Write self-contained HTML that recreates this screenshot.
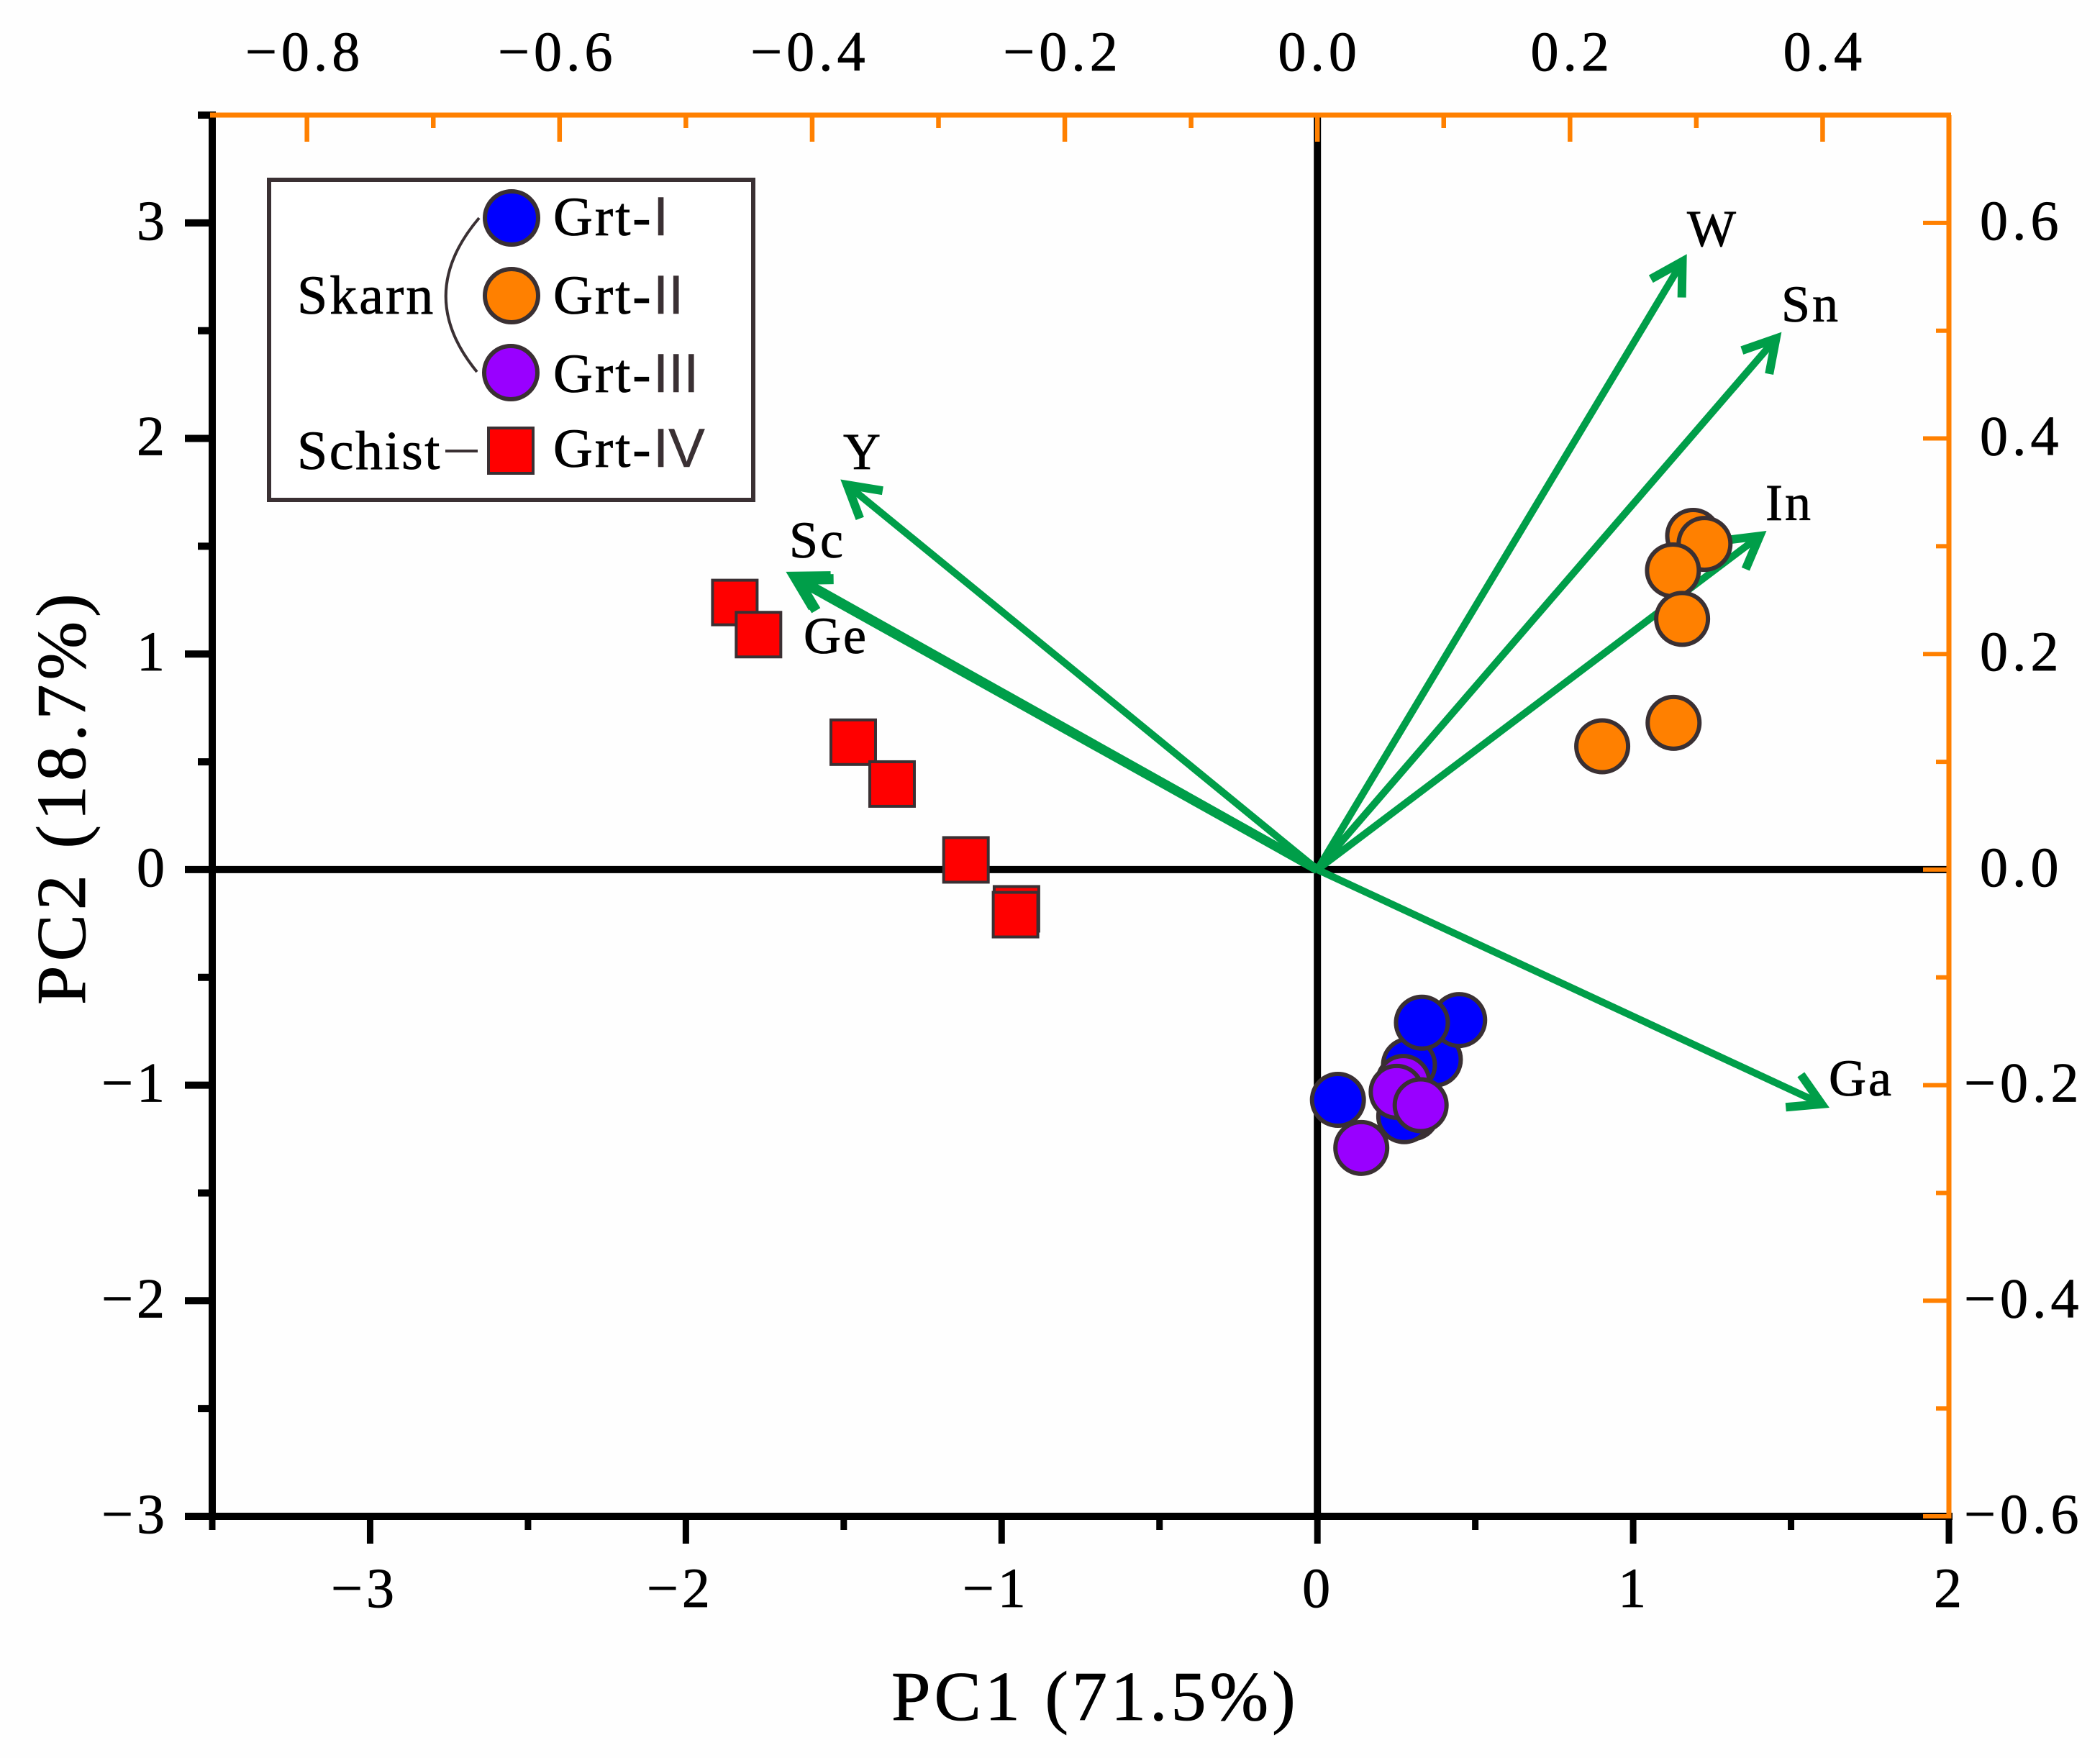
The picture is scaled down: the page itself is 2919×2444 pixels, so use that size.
<!DOCTYPE html>
<html lang="en">
<head>
<meta charset="utf-8">
<title>PCA biplot of garnet trace elements</title>
<style>
html,body{margin:0;padding:0;background:#fff;}
svg{display:block;}
text{font-family:"Liberation Serif",serif;fill:#000;stroke:#000;stroke-width:0.8;}
.roman{font-family:"Liberation Sans",sans-serif;fill:#3a3033;stroke:#3a3033;stroke-width:0.5;letter-spacing:0;}
</style>
</head>
<body>
<svg id="chart" xmlns="http://www.w3.org/2000/svg" width="2919" height="2444" viewBox="0 0 2919 2444">
  <rect x="0" y="0" width="2919" height="2444" fill="#fefefe"/>
  <g id="black-axes"></g>
  <g id="arrows"></g>
  <g id="points"></g>
  <g id="orange-axes"></g>
  <g id="labels"></g>

  <text x="1239" y="2391" font-size="98" letter-spacing="5">PC1 (71.5%)</text>
  <text transform="translate(118,1397) rotate(-90)" font-size="98" letter-spacing="6">PC2 (18.7%)</text>

  <g>
    <rect x="374" y="250" width="673" height="445" fill="#fff" stroke="#3a3033" stroke-width="6"/>
    <path d="M666,303 Q575,410 663,517" fill="none" stroke="#3a3033" stroke-width="4"/>
    <line x1="619" y1="627" x2="664" y2="627" stroke="#3a3033" stroke-width="4"/>
    <text x="413" y="436" font-size="76" letter-spacing="3">Skarn</text>
    <text x="413" y="652" font-size="76" letter-spacing="2.5">Schist</text>
    <circle cx="711" cy="303" r="37" fill="#0000ff" stroke="#3a3033" stroke-width="6"/>
    <circle cx="711" cy="411" r="37" fill="#ff8000" stroke="#3a3033" stroke-width="6"/>
    <circle cx="710" cy="518" r="37" fill="#9900ff" stroke="#3a3033" stroke-width="6"/>
    <rect x="679" y="595" width="62" height="63" fill="#ff0000" stroke="#3a3033" stroke-width="4"/>
    <text x="769" y="327" font-size="76" letter-spacing="3">Grt-<tspan class="roman" x="908">I</tspan></text>
    <text x="769" y="436" font-size="76" letter-spacing="3">Grt-<tspan class="roman" x="908">II</tspan></text>
    <text x="769" y="545" font-size="76" letter-spacing="3">Grt-<tspan class="roman" x="908">III</tspan></text>
    <text x="769" y="649" font-size="76" letter-spacing="3">Grt-<tspan class="roman" x="908">IV</tspan></text>
  </g>
</svg>
<script>
// Bottom and left axes (PC scores)
const pc1Ticks = [-3, -2, -1, 0, 1, 2];
const pc1MinorTicks = [-3.5, -2.5, -1.5, -0.5, 0.5, 1.5];
const pc2Ticks = [-3, -2, -1, 0, 1, 2, 3];
const pc2MinorTicks = [-2.5, -1.5, -0.5, 0.5, 1.5, 2.5, 3.5];

// Top and right axes (loadings)
const loadXTicks = [-0.8, -0.6, -0.4, -0.2, 0, 0.2, 0.4];
const loadXMinorTicks = [-0.7, -0.5, -0.3, -0.1, 0.1, 0.3];
const loadYTicks = [-0.6, -0.4, -0.2, 0, 0.2, 0.4, 0.6];
const loadYMinorTicks = [-0.5, -0.3, -0.1, 0.1, 0.3, 0.5];

// Scores
const grt1X = [0.372, 0.29, 0.30, 0.275, 0.065, 0.449, 0.331];
const grt1Y = [-0.881, -0.906, -1.13, -1.144, -1.068, -0.698, -0.71];
const grt2X = [1.19, 1.226, 1.126, 1.155, 1.128, 0.902];
const grt2Y = [1.548, 1.511, 1.388, 1.163, 0.681, 0.572];
const grt3X = [0.272, 0.251, 0.327, 0.139];
const grt3Y = [-0.985, -1.031, -1.093, -1.291];
const grt4X = [-1.845, -1.77, -1.47, -1.347, -1.113, -0.953, -0.956];
const grt4Y = [1.239, 1.09, 0.591, 0.397, 0.045, -0.182, -0.209];

// Loadings
const elementNames = ['W', 'Sn', 'In', 'Ga', 'Y', 'Sc', 'Ge'];
const loadingX = [0.2925, 0.3675, 0.3556, 0.4054, -0.3776, -0.4208, -0.4185];
const loadingY = [0.571, 0.4987, 0.3143, -0.2209, 0.362, 0.2763, 0.2735];

const SVGNS = 'http://www.w3.org/2000/svg';
const plot = { left: 295, right: 2709, top: 160, bottom: 2108 };
const sx = v => plot.left + (v + 3.5) * (plot.right - plot.left) / 5.5;
const sy = v => plot.top + (3.5 - v) * (plot.bottom - plot.top) / 6.5;
const lx = v => sx(v * 4);
const ly = v => sy(v * 5);

function make(tag, attrs, parent) {
  const el = document.createElementNS(SVGNS, tag);
  for (const k in attrs) el.setAttribute(k, attrs[k]);
  parent.appendChild(el);
  return el;
}
function fmt(v, digits) {
  const s = Math.abs(v).toFixed(digits);
  return (v < 0 ? '\u2212' : '') + s;
}

const blackAxes = document.getElementById('black-axes');
const orangeAxes = document.getElementById('orange-axes');
const arrowLayer = document.getElementById('arrows');
const pointLayer = document.getElementById('points');
const labelLayer = document.getElementById('labels');

function axisLine(parent, x1, y1, x2, y2, color, w, name) {
  const l = make('line', { x1: x1, y1: y1, x2: x2, y2: y2, stroke: color, 'stroke-width': w }, parent);
  
  
  return l;
}
function tickLabel(x, y, str, anchor, size, spacing, name) {
  const t = make('text', { x: x, y: y, 'text-anchor': anchor, 'font-size': size, 'letter-spacing': spacing }, labelLayer);
  t.textContent = str;
  
  
  return t;
}

// centre cross lines and main axes
axisLine(blackAxes, plot.left, sy(0), plot.right, sy(0), '#000', 10, 'zero-line-horizontal');
axisLine(blackAxes, sx(0), plot.top, sx(0), plot.bottom, '#000', 10, 'zero-line-vertical');
axisLine(blackAxes, plot.left, plot.top - 5, plot.left, plot.bottom + 5, '#000', 10, 'left-axis-line');
axisLine(blackAxes, plot.left - 5, plot.bottom, plot.right + 5, plot.bottom, '#000', 10, 'bottom-axis-line');

pc1Ticks.forEach(v => {
  axisLine(blackAxes, sx(v), plot.bottom, sx(v), plot.bottom + 38, '#000', 9, 'x-major-tick');
  tickLabel(sx(v) + (v < 0 ? -8 : 1), 2234, fmt(v, 0), 'middle', 78, 5, 'x-tick-label');
});
pc1MinorTicks.forEach(v => {
  axisLine(blackAxes, sx(v), plot.bottom, sx(v), plot.bottom + 19, '#000', 9, 'x-minor-tick');
});
pc2Ticks.forEach(v => {
  axisLine(blackAxes, plot.left - 38, sy(v), plot.left, sy(v), '#000', 10, 'y-major-tick');
  tickLabel(234, sy(v) + 23, fmt(v, 0), 'end', 78, 5, 'y-tick-label');
});
pc2MinorTicks.forEach(v => {
  axisLine(blackAxes, plot.left - 20, sy(v), plot.left, sy(v), '#000', 10, 'y-minor-tick');
});

// loading vectors
const headLength = 50;
const headAngle = Math.PI / 6;
const labelPosX = [2345, 2476, 2454, 2542, 1172, 1097, 1117];
const labelPosY = [342, 447, 723, 1523, 652, 775, 908];
elementNames.forEach((name, i) => {
  const doubled = name === 'Ge' || name === 'Sc';
  const shaftWidth = doubled ? 13 : 10;
  const barbWidth = doubled ? 14 : 12;
  const miterOffset = barbWidth;
  const ox = lx(0), oy = ly(0);
  const tx = lx(loadingX[i]), ty = ly(loadingY[i]);
  const len = Math.hypot(tx - ox, ty - oy);
  const ux = (tx - ox) / len, uy = (ty - oy) / len;
  const vx = tx - ux * miterOffset, vy = ty - uy * miterOffset;
  const g = make('g', {}, arrowLayer);
  
  
  make('line', { x1: ox, y1: oy, x2: vx, y2: vy, stroke: '#009e49', 'stroke-width': shaftWidth }, g);
  const pts = [1, -1].map(s => {
    const c = Math.cos(s * headAngle), n = Math.sin(s * headAngle);
    const bx = -ux * c + uy * n, by = -ux * n - uy * c;
    return (vx + bx * headLength) + ',' + (vy + by * headLength);
  });
  make('polyline', { points: pts[0] + ' ' + vx + ',' + vy + ' ' + pts[1], fill: 'none', stroke: '#009e49', 'stroke-width': barbWidth, 'stroke-linejoin': 'miter', 'stroke-miterlimit': 4 }, g);
  const t = make('text', { x: labelPosX[i], y: labelPosY[i], 'font-size': 72, 'letter-spacing': 3 }, arrowLayer);
  t.textContent = name;
  
  
});

// score points
function drawCircles(xs, ys, fill, name) {
  xs.forEach((x, i) => {
    const c = make('circle', { cx: sx(x), cy: sy(ys[i]), r: 36, fill: fill, stroke: '#3a3033', 'stroke-width': 6 }, pointLayer);
    
    
  });
}
drawCircles(grt2X, grt2Y, '#ff8000', 'grt-ii-point');
drawCircles(grt1X, grt1Y, '#0000ff', 'grt-i-point');
drawCircles(grt3X, grt3Y, '#9900ff', 'grt-iii-point');
grt4X.forEach((x, i) => {
  const r = make('rect', { x: sx(x) - 31, y: sy(grt4Y[i]) - 31, width: 62, height: 62, fill: '#ff0000', stroke: '#3a3033', 'stroke-width': 4 }, pointLayer);
  
  
});

// orange secondary axes
const ORANGE = '#ff8000';
axisLine(orangeAxes, plot.left - 3, plot.top, plot.right + 3, plot.top, ORANGE, 7, 'top-axis-line');
axisLine(orangeAxes, plot.right, plot.top, plot.right, plot.bottom + 3, ORANGE, 7, 'right-axis-line');
loadXTicks.forEach(v => {
  axisLine(orangeAxes, lx(v), plot.top, lx(v), plot.top + 37, ORANGE, 6.5, 'top-major-tick');
  tickLabel(lx(v) + (v < 0 ? -3 : 3), 98, fmt(v, 1), 'middle', 78, 6, 'top-tick-label');
});
loadXMinorTicks.forEach(v => {
  axisLine(orangeAxes, lx(v), plot.top, lx(v), plot.top + 18, ORANGE, 6.5, 'top-minor-tick');
});
loadYTicks.forEach(v => {
  axisLine(orangeAxes, plot.right - 36, ly(v), plot.right, ly(v), ORANGE, 6, 'right-major-tick');
  tickLabel(v < 0 ? 2730 : 2752, ly(v) + 23, fmt(v, 1), 'start', 78, 6, 'right-tick-label');
});
loadYMinorTicks.forEach(v => {
  axisLine(orangeAxes, plot.right - 18, ly(v), plot.right, ly(v), ORANGE, 6, 'right-minor-tick');
});
</script>
</body>
</html>
